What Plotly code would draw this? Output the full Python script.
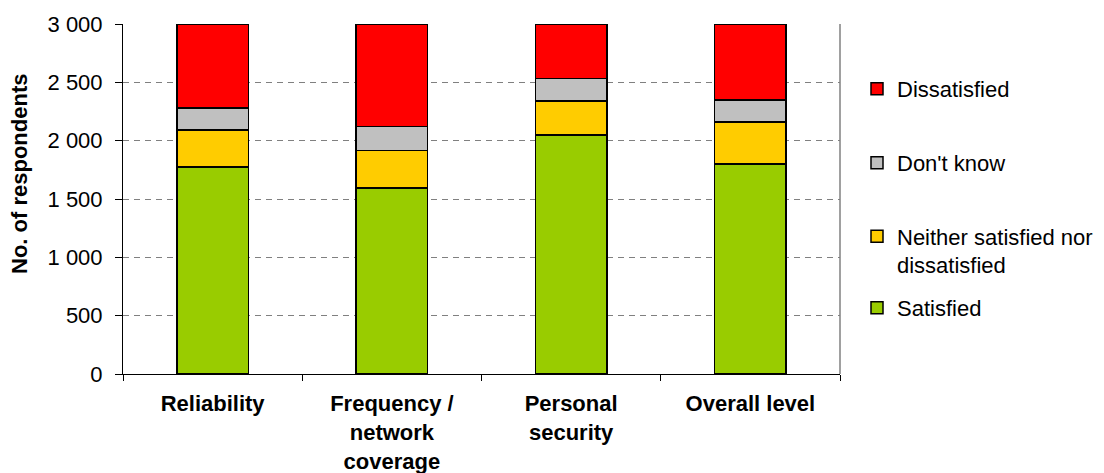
import plotly.graph_objects as go

# Survey results: number of respondents per satisfaction level
categories = ["Reliability", "Frequency /<br>network<br>coverage", "Personal<br>security", "Overall level"]
satisfied = [1775, 1595, 2050, 1800]
neither = [315, 320, 290, 360]
dont_know = [190, 205, 195, 190]
dissatisfied = [720, 880, 465, 650]

series = [
    ("Satisfied", satisfied, "#99CC00", "legend4"),
    ("Neither satisfied nor<br>dissatisfied", neither, "#FFCC00", "legend3"),
    ("Don't know", dont_know, "#C0C0C0", "legend2"),
    ("Dissatisfied", dissatisfied, "#FF0000", "legend"),
]

FONT = "Liberation Sans, Arial, sans-serif"
FS = 22

fig = go.Figure()
for name, vals, color, leg in series:
    fig.add_trace(go.Bar(
        x=categories, y=vals, name=name, width=0.4, showlegend=True,
        marker=dict(color=color, line=dict(color="#000000", width=1.5)),
        legend=leg,
    ))

W, H = 1104, 473
L, R, T, B = 123, 264, 24, 99
pw, ph = W - L - R, H - T - B


def lx(px):
    return (px - L) / pw


def ly(py):
    return (H - B - py) / ph


leg_common = dict(
    xanchor="left", yanchor="middle", bgcolor="rgba(0,0,0,0)",
    font=dict(family=FONT, size=FS, color="#000000"), valign="top",
)

fig.update_layout(
    width=W, height=H,
    margin=dict(l=L, r=R, t=T, b=B, autoexpand=False),
    barmode="stack",
    showlegend=True,
    plot_bgcolor="#FFFFFF", paper_bgcolor="#FFFFFF",
    separators=", ",
    font=dict(family=FONT, size=FS, color="#000000"),
    legend=dict(x=lx(857), y=ly(89), **leg_common),
    legend2=dict(x=lx(857), y=ly(163), **leg_common),
    legend3=dict(x=lx(857), y=ly(251), **leg_common),
    legend4=dict(x=lx(857), y=ly(308), **leg_common),
    xaxis=dict(
        showline=True, linecolor="#000000", linewidth=1,
        ticks="outside", ticklen=6, tickcolor="#000000", tickson="boundaries",
        tickfont=dict(family=FONT, size=FS, weight="bold"),
        ticklabelstandoff=10,
        showgrid=False,
    ),
    yaxis=dict(
        range=[0, 3000], dtick=500, tickformat=",d",
        showline=True, linecolor="#000000", linewidth=1,
        ticks="outside", ticklen=7, tickcolor="#000000",
        tickfont=dict(family=FONT, size=FS),
        ticklabelstandoff=8,
        showgrid=True, gridcolor="#808080", gridwidth=1, griddash="6px,5px",
        zeroline=False,
    ),
    shapes=[dict(type="line", xref="paper", yref="paper", x0=1, x1=1, y0=0, y1=1,
                 line=dict(color="#808080", width=1.5))],
    annotations=[dict(
        text="<b>No. of respondents</b>", textangle=-90, showarrow=False,
        xref="paper", yref="paper", x=lx(19), y=ly(174),
        xanchor="center", yanchor="middle",
        font=dict(family=FONT, size=FS, color="#000000"),
    )],
)

fig.write_html("out.html")
